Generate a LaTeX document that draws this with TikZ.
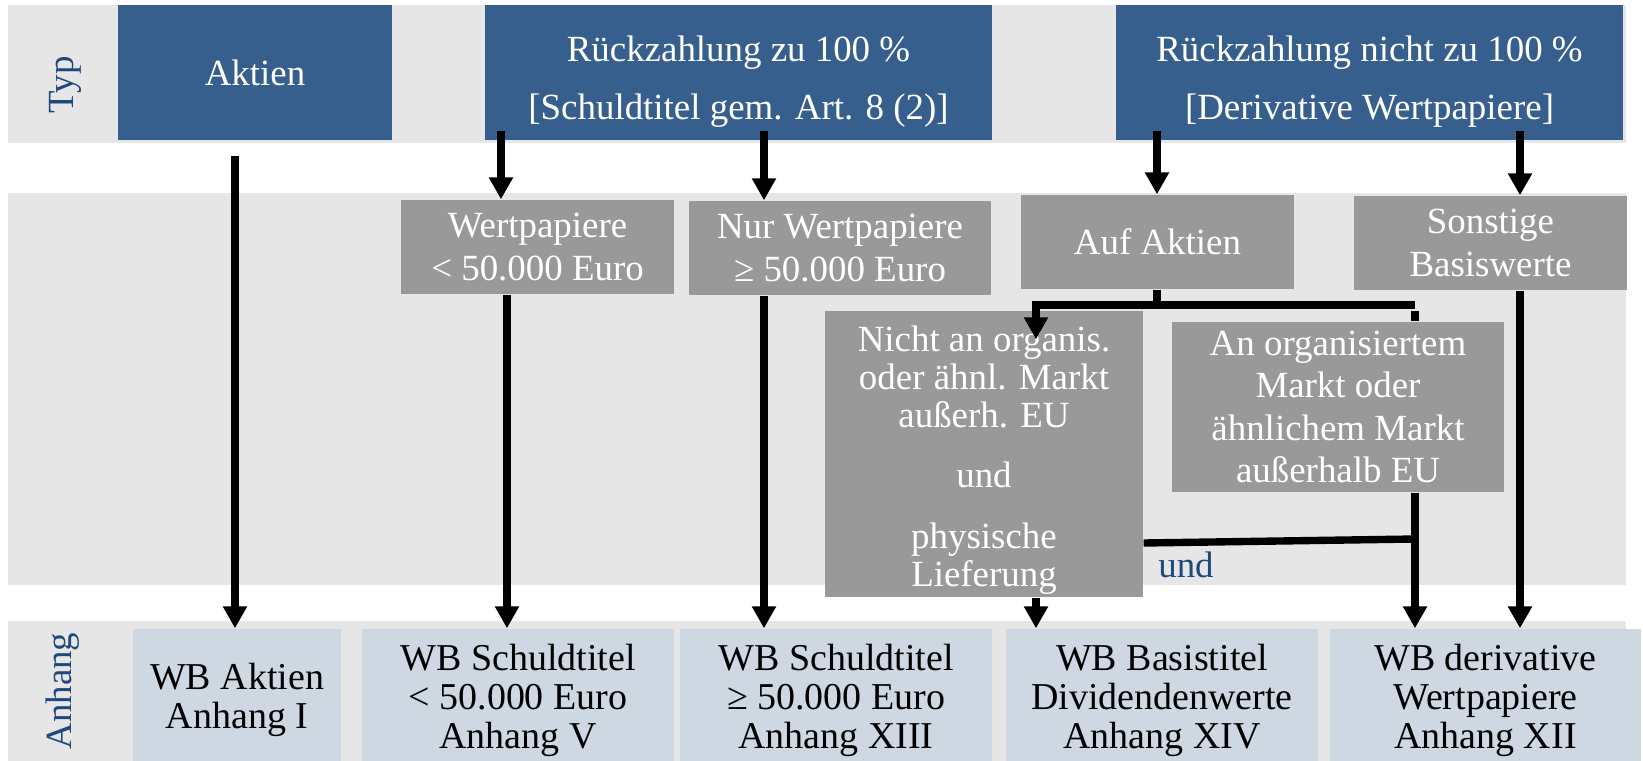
\documentclass[tikz,border=0pt]{standalone}
\usepackage{fontspec}
\setmainfont{Liberation Serif}
\usetikzlibrary{arrows.meta, positioning}

\definecolor{typblue}{HTML}{365F8D}
\definecolor{labelblue}{HTML}{1F497D}
\definecolor{bandgray}{HTML}{E6E6E6}
\definecolor{boxgray}{HTML}{999999}
\definecolor{annexblue}{HTML}{CDD8E3}

\newcommand\topstrut{\rule{0pt}{12.6pt}}
\newcommand\midstrut{\rule{0pt}{10.8pt}}
\newcommand\annexstrut{\rule{0pt}{10.4pt}}

\begin{document}
\begin{tikzpicture}[
        x=0.1mm, y=-0.1mm,
        >={Triangle[width=2.3mm,length=2.2mm]},
        base/.style={inner sep=0pt, align=center, text=white, font=\fontsize{10.5}{12}\selectfont},
        typbox/.style={base, fill=typblue, minimum height=13.5mm, font=\fontsize{10.5}{16.5}\selectfont},
        crit/.style={base, fill=boxgray, minimum height=9.4mm},
        annex/.style={base, fill=annexblue, text=black, minimum height=13.2mm, font=\fontsize{10.8}{11.1}\selectfont},
        band/.style={fill=bandgray},
        rowlabel/.style={text=labelblue, rotate=90, font=\fontsize{10.5}{12}\selectfont},
        arrow/.style={->, line width=2.1pt},
        link/.style={line width=2.1pt}
    ]
    \useasboundingbox (0,0) rectangle (1643,761);

    % Bands
    \fill[band] (8,5) rectangle (1626,143);
    \fill[band] (8,193) rectangle (1626,585);
    \fill[band] (8,621) rectangle (1626,761);

    % Row labels
    \node[rowlabel] (typlabel) at (65,85) {Typ};
    \node[rowlabel] (anhanglabel) at (63,691) {Anhang};

    % Nodes
    \node[typbox, minimum width=27.4mm] (aktien) at (255,72.5) {Aktien};
    \node[typbox, minimum width=50.7mm] (rueckvoll) at (738.5,72.5) {\topstrut Rückzahlung zu 100 \%\\{}[Schuldtitel gem. Art. 8 (2)]};
    \node[typbox, minimum width=50.7mm] (rueckteil) at (1369.5,72.5) {\topstrut Rückzahlung nicht zu 100 \%\\{}[Derivative Wertpapiere]};

    \node[crit, minimum width=27.3mm] (wpklein) at (537.5,247) {Wertpapiere\\< 50.000 Euro};
    \node[crit, minimum width=30.2mm] (wpgross) at (840,248) {Nur Wertpapiere\\≥ 50.000 Euro};
    \node[crit, minimum width=27.3mm] (aufaktien) at (1157.5,242) {Auf Aktien};
    \node[crit, minimum width=27.3mm] (sonstige) at (1490.5,243) {Sonstige\\Basiswerte};
    \node[crit, minimum width=31.8mm, minimum height=28.6mm, font=\fontsize{10.5}{10.8}\selectfont] (nichtorg) at (984,454)
        {\midstrut Nicht an organis.\\oder ähnl. Markt\\außerh. EU\\[6.4pt]und\\[6.4pt]physische\\Lieferung};
    \node[crit, minimum width=33.2mm, minimum height=17mm] (anorg) at (1338,407)
        {An organisiertem\\Markt oder\\ähnlichem Markt\\außerhalb EU};
    \node[text=labelblue, font=\fontsize{10.5}{12}\selectfont] (undlabel) at (1186,565) {und};

    \node[annex, minimum width=20.8mm] (wbaktien) at (237,695) {\annexstrut WB Aktien\\Anhang I};
    \node[annex, minimum width=31.2mm] (wbklein) at (518,695) {\annexstrut WB Schuldtitel\\< 50.000 Euro\\Anhang V};
    \node[annex, minimum width=31.2mm] (wbgross) at (836,695) {\annexstrut WB Schuldtitel\\≥ 50.000 Euro\\Anhang XIII};
    \node[annex, minimum width=31.2mm] (wbbasis) at (1162,695) {\annexstrut WB Basistitel\\Dividendenwerte\\Anhang XIV};
    \node[annex, minimum width=31.1mm] (wbderiv) at (1485.5,695) {\annexstrut WB derivative\\Wertpapiere\\Anhang XII};

    % Columns of the connectors
    \coordinate (aktienstart) at (235,156);
    \coordinate (colklein) at (501,0);
    \coordinate (colkleinb) at (507,0);
    \coordinate (colgross) at (764,0);
    \coordinate (colaktien) at (1157,0);
    \coordinate (colnicht) at (1036,0);
    \coordinate (colorg) at (1415,0);
    \coordinate (colsonst) at (1520,0);
    \coordinate (split) at (1157,305);
    \coordinate (undjoin) at (1415,539);

    % Arrows
    \draw[arrow] (aktienstart) -- (aktienstart |- wbaktien.north);
    \draw[arrow] ([yshift=1mm]rueckvoll.south -| colklein) -- (wpklein.north -| colklein);
    \draw[arrow] ([yshift=1mm]rueckvoll.south -| colgross) -- (wpgross.north -| colgross);
    \draw[arrow] ([yshift=1mm]rueckteil.south -| colaktien) -- (aufaktien.north -| colaktien);
    \draw[arrow] ([yshift=1mm]rueckteil.south -| colsonst) -- (sonstige.north -| colsonst);

    \draw[arrow] (wpklein.south -| colkleinb) -- (wbklein.north -| colkleinb);
    \draw[arrow] (wpgross.south -| colgross) -- (wbgross.north -| colgross);
    \draw[arrow] (sonstige.south -| colsonst) -- (wbderiv.north -| colsonst);

    \draw[link] (aufaktien.south -| split) -- (split);
    \draw[arrow] (split -| colorg) -- (split -| colnicht) -- ([yshift=-2.9mm]nichtorg.north -| colnicht);
    \draw[link] ([yshift=1mm]anorg.north -| colorg) -- (anorg.north -| colorg);
    \draw[arrow] (anorg.south -| colorg) -- (wbderiv.north -| colorg);
    \draw[link] ([yshift=-8.9mm]nichtorg.east) -- (undjoin);
    \draw[arrow] (nichtorg.south -| colnicht) -- (wbbasis.north -| colnicht);

    \end{tikzpicture}
\end{document}
